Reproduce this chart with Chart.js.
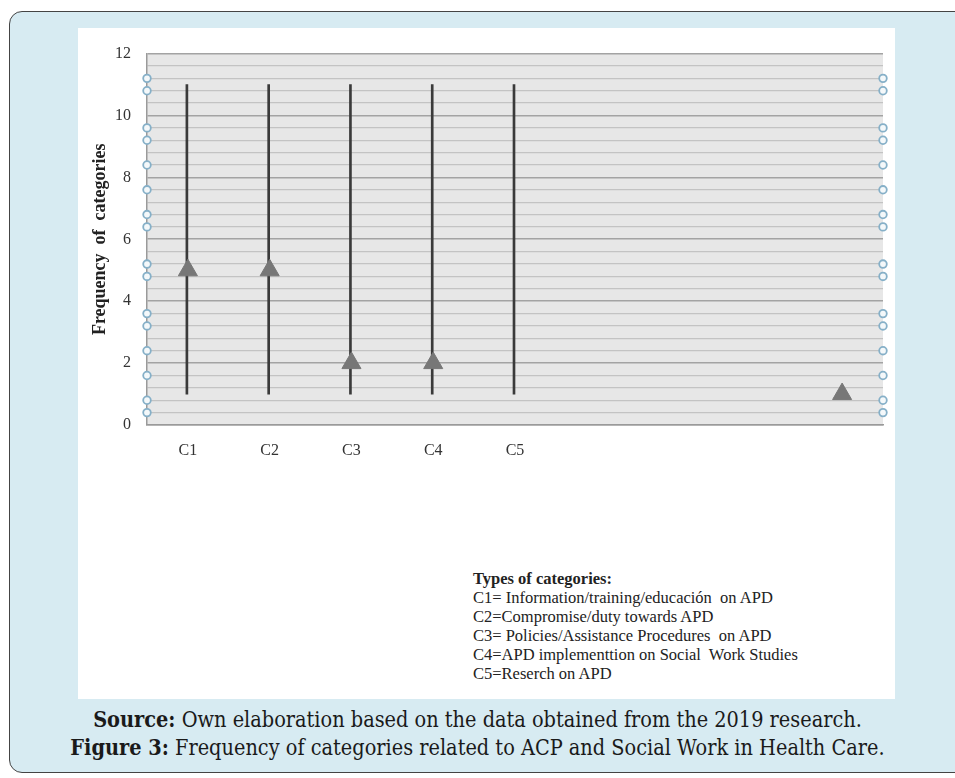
<!DOCTYPE html>
<html>
<head>
<meta charset="utf-8">
<script src="https://cdn.jsdelivr.net/npm/chart.js@4/dist/chart.umd.min.js"></script>
<style>
  body { margin: 0; width: 955px; height: 778px; background: #ffffff; overflow: hidden; }
  #frame {
    position: absolute; left: 9px; top: 11px; width: 960px; height: 762px;
    background: #d7ebf2; border: 1.5px solid #444; border-radius: 13px; box-sizing: border-box;
  }
  #paper { position: absolute; left: 78px; top: 28px; width: 817px; height: 671px; background: #fff; }
  #wrap { position: absolute; left: 0; top: 0; width: 817px; height: 460px; }
  #key {
    position: absolute; left: 395px; top: 541px;
    font-family: "Liberation Serif", serif; font-size: 16.5px; line-height: 19px; color: #222;
  }
  #key b { font-weight: bold; }
  #caption {
    position: absolute; left: 0; top: 706px; width: 955px; text-align: center;
    font-family: "DejaVu Serif", serif; font-stretch: condensed; font-size: 21.5px; line-height: 28px; color: #1a1a1a;
  }
</style>
</head>
<body>
<div id="frame"></div>
<div id="paper">
  <div id="wrap"><canvas id="myChart"></canvas></div>
  <div id="key">
    <b>Types of categories:</b><br>
    C1= Information/training/educación&nbsp; on APD<br>
    C2=Compromise/duty towards APD<br>
    C3= Policies/Assistance Procedures&nbsp; on APD<br>
    C4=APD implementtion on Social&nbsp; Work Studies<br>
    C5=Reserch on APD
  </div>
</div>
<div id="caption">
  <b>Source:</b> Own elaboration based on the data obtained from the 2019 research.<br>
  <b>Figure 3:</b> Frequency of categories related to ACP and Social Work in Health Care.
</div>
<script>
const labels = ['C1', 'C2', 'C3', 'C4', 'C5', '', '', '', ''];
const lows = [1, 1, 1, 1, 1, null, null, null, null];
const highs = [11, 11, 11, 11, 11, null, null, null, null];
const marks = [5, 5, 2, 2, null, null, null, null, 1];
// little circles sitting on both edges of the plot
const edgeValues = [11.2, 10.8, 9.6, 9.2, 8.4, 7.6, 6.8, 6.4, 5.2, 4.8, 3.6, 3.2, 2.4, 1.6, 0.8, 0.4];
const yTicks = [0, 2, 4, 6, 8, 10, 12];

const ctx = document.getElementById('myChart').getContext('2d');

const plotBg = {
  id: 'plotBg',
  beforeDraw(chart) {
    const a = chart.chartArea;
    const c = chart.ctx;
    c.save();
    c.fillStyle = '#e7e7e7';
    c.fillRect(a.left, a.top, a.right - a.left, a.bottom - a.top);
    c.restore();
  }
};

const isMajor = v => yTicks.some(t => Math.abs(t - v) < 1e-6);

const edgePoints = [];
edgeValues.forEach(v => { edgePoints.push({x: 0, y: v}); edgePoints.push({x: 1, y: v}); });

new Chart(ctx, {
  type: 'bar',
  data: {
    labels: labels,
    datasets: [
      {
        type: 'line',
        data: marks,
        showLine: false,
        pointStyle: 'triangle',
        pointRadius: 11,
        pointHoverRadius: 11,
        pointBackgroundColor: '#777',
        pointBorderColor: '#777',
        order: 0
      },
      {
        type: 'scatter',
        data: edgePoints,
        xAxisID: 'x2',
        pointRadius: 3.8,
        pointBorderWidth: 1.8,
        pointBorderColor: '#86b0c8',
        pointBackgroundColor: '#f4f8fa',
        clip: false,
        order: 1
      },
      {
        data: lows.map((l, i) => l === null ? null : [l, highs[i]]),
        backgroundColor: '#3a3a3a',
        barThickness: 2,
        order: 2
      }
    ]
  },
  options: {
    responsive: true,
    maintainAspectRatio: false,
    animation: false,
    layout: { padding: { left: 0, top: 13, right: 12, bottom: 0 } },
    scales: {
      x: {
        offset: true,
        grid: { display: false, drawTicks: false },
        border: { color: '#9a9a9a', width: 1.5 },
        ticks: { padding: 16, color: '#333', font: { family: 'Liberation Serif', size: 16 } },
        afterFit: s => { s.height = 63; }
      },
      x2: { type: 'linear', min: 0, max: 1, offset: false, display: false },
      y: {
        min: 0,
        max: 12,
        grid: {
          drawTicks: false,
          color: c => isMajor(c.tick.value) ? '#a3a3a3' : '#c3c3c3',
          lineWidth: c => isMajor(c.tick.value) ? 1.6 : 1.3
        },
        border: { color: '#9a9a9a', width: 1.5 },
        ticks: {
          stepSize: 0.4,
          autoSkip: false,
          padding: 16,
          color: '#333',
          font: { family: 'Liberation Serif', size: 16 },
          callback: v => isMajor(v) ? Math.round(v) : ''
        },
        title: {
          display: true,
          text: 'Frequency  of  categories',
          color: '#222',
          font: { family: 'Liberation Serif', size: 18, weight: 'bold' },
          padding: { top: 12, bottom: 0 }
        },
        afterFit: s => { s.width = 69; }
      }
    },
    plugins: {
      legend: { display: false },
      tooltip: { enabled: false }
    }
  },
  plugins: [plotBg]
});
</script>
</body>
</html>
